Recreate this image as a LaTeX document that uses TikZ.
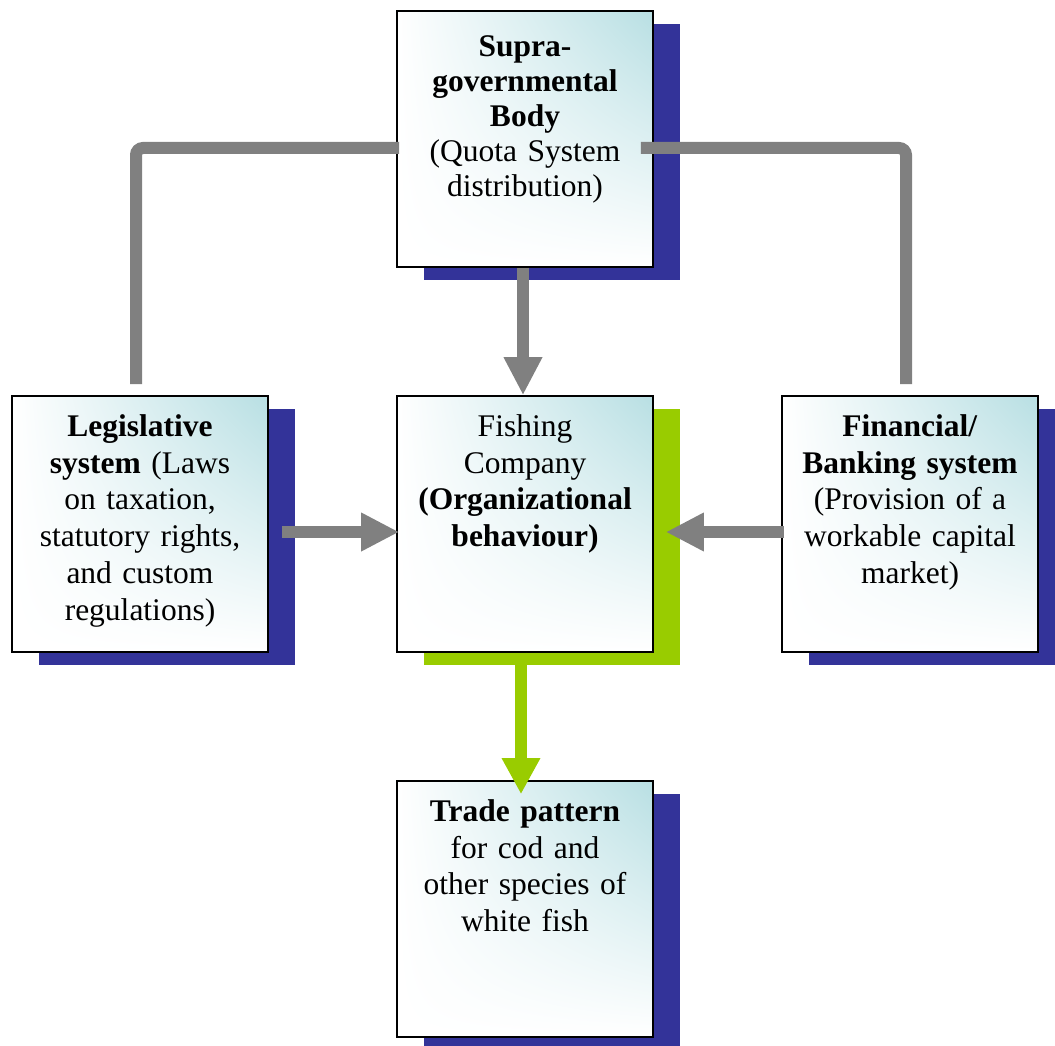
\documentclass[tikz,border=0pt]{standalone}
\usepackage{fontspec}
\setmainfont{Liberation Serif}
\usetikzlibrary{arrows.meta,calc,shadows,shadings}
\definecolor{shadowblue}{RGB}{51,51,153}
\definecolor{shadowgreen}{RGB}{153,204,0}
\definecolor{linegray}{RGB}{128,128,128}
\definecolor{boxteal}{RGB}{184,223,227}
\begin{document}
\begin{tikzpicture}[x=1pt,y=-1pt,
  box/.style={draw=black, line width=1.6pt, minimum width=256pt, minimum height=256pt,
    inner sep=0pt, shade, upper left=white, upper right=boxteal, lower left=white, lower right=white},
  blueshadow/.style={drop shadow={shadow xshift=27pt, shadow yshift=-13pt, fill=shadowblue, opacity=1}},
  greenshadow/.style={drop shadow={shadow xshift=27pt, shadow yshift=-13pt, fill=shadowgreen, opacity=1}},
  txt/.style={anchor=north, text width=250pt, align=center, inner sep=0pt,
    font=\fontsize{31.5}{36.8}\selectfont},
  toptxt/.style={txt, font=\fontsize{31.5}{35}\selectfont},
  gline/.style={draw=linegray, line width=12pt, rounded corners=7pt},
  garrow/.style={draw=linegray, line width=12pt, -{Triangle[length=38pt,width=36pt]}},
  greenarrow/.style={draw=shadowgreen, line width=12pt, -{Triangle[length=36pt,width=36pt]}}
]
\useasboundingbox (0,0) rectangle (1055,1046);
\node[box, blueshadow] (top) at (525,139) {};
\node[box, blueshadow] (leg) at (140,524) {};
\node[box, greenshadow] (fish) at (525,524) {};
\node[box, blueshadow] (fin) at (910,524) {};
\node[box, blueshadow] (trade) at (525,909) {};

\node[toptxt] (topt) at ($(top.north)+(0,25)$) {\textbf{Supra-}\\\textbf{governmental}\\\textbf{Body}\\(Quota System\\distribution)};
\node[txt] (legt) at ($(leg.north)+(0,19)$) {\textbf{Legislative}\\\textbf{system} (Laws\\on taxation,\\statutory rights,\\and custom\\regulations)};
\node[txt] (fisht) at ($(fish.north)+(0,19)$) {Fishing\\Company\\\textbf{(Organizational}\\\textbf{behaviour)}};
\node[txt] (fint) at ($(fin.north)+(0,19)$) {\textbf{Financial/}\\\textbf{Banking system}\\(Provision of a\\workable capital\\market)};
\node[txt] (tradet) at ($(trade.north)+(0,19)$) {\textbf{Trade pattern}\\for cod and\\other species of\\white fish};

\draw[gline] ($(leg.north)+(-4,-11)$) |- ($(top.west)+(3,9)$);
\draw[gline] ($(top.east)+(-13,9)$) -| ($(fin.north)+(-4,-11)$);
\draw[garrow] ($(top.south)+(-2,0)$) -- ($(fish.north)+(-2,0)$);
\draw[garrow] ($(leg.east)+(13,8)$) -- ($(fish.west)+(3,8)$);
\draw[garrow] ($(fin.west)+(3,8)$) -- ($(fish.east)+(12,8)$);
\draw[greenarrow] ($(fish.south)+(-4,0)$) -- ($(trade.north)+(-4,14)$);
\end{tikzpicture}
\end{document}
